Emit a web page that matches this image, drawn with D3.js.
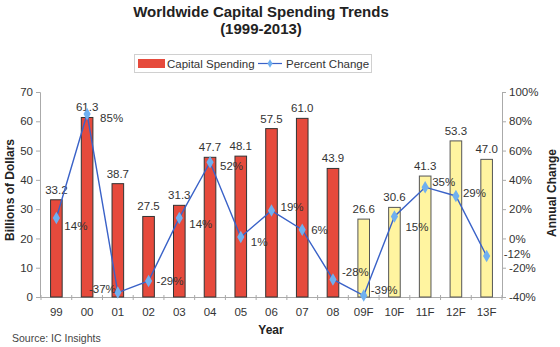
<!DOCTYPE html>
<html><head><meta charset="utf-8">
<script src="https://cdn.jsdelivr.net/npm/d3@7"></script>
<style>body{margin:0;background:#fff}svg{display:block}text{font-family:"Liberation Sans",Arial,sans-serif}</style>
</head><body>
<svg id="c" width="560" height="347"></svg>
<script>
const categories = ["99","00","01","02","03","04","05","06","07","08","09F","10F","11F","12F","13F"];
const spending = [33.2,61.3,38.7,27.5,31.3,47.7,48.1,57.5,61.0,43.9,26.6,30.6,41.3,53.3,47.0];
const pctChange = [14,85,-37,-29,14,52,1,19,6,-28,-39,15,35,29,-12];
const forecast = [false,false,false,false,false,false,false,false,false,false,true,true,true,true,true];
const leftTicks = [0,10,20,30,40,50,60,70];
const rightTicks = [-40,-20,0,20,40,60,80,100];
// label offsets (style only)
const pctOffsets = [[8,8,"start"],[13,4,"start"],[-2,-4,"end"],[8,0,"start"],[10,6,"start"],[10,4,"start"],[10,5,"start"],[9,-4,"start"],[9,0,"start"],[9,-7,"start"],[7,-6,"start"],[11,11,"start"],[7,-5,"start"],[7,-3,"start"],[17,-2,"start"]];

const svg = d3.select("#c");
const L = 41, R = 502, T = 92, B = 297;
const x = d3.scaleBand().domain(categories).range([L,R]).paddingInner(0.59).paddingOuter(0.295);
const yL = d3.scaleLinear().domain([0,70]).range([B,T]);
const yR = d3.scaleLinear().domain([-40,100]).range([B,T]);

// title
svg.append("text").attr("x",261).attr("y",17).attr("text-anchor","middle").attr("font-weight","bold").attr("font-size",15).attr("fill","#222").text("Worldwide Capital Spending Trends");
svg.append("text").attr("x",261).attr("y",34).attr("text-anchor","middle").attr("font-weight","bold").attr("font-size",15).attr("fill","#222").text("(1999-2013)");

// legend
const lg = svg.append("g");
lg.append("rect").attr("x",134.5).attr("y",54.5).attr("width",237).attr("height",18).attr("fill","#fff").attr("stroke","#d0d0d0");
lg.append("rect").attr("x",138).attr("y",59).attr("width",27).attr("height",9).attr("fill","#e64a3c");
lg.append("text").attr("x",167).attr("y",67.5).attr("font-size",11.5).attr("fill","#333").text("Capital Spending");
lg.append("line").attr("x1",258).attr("x2",282).attr("y1",63.5).attr("y2",63.5).attr("stroke","#3a62c8").attr("stroke-width",1.2);
lg.append("path").attr("d",d3.symbol(d3.symbolDiamond,22)()).attr("transform","translate(270,63.5)").attr("fill","#6fb0f0");
lg.append("text").attr("x",286).attr("y",67.5).attr("font-size",11.5).attr("fill","#333").text("Percent Change");

// axes
const axL = svg.append("g").attr("transform",`translate(40,0)`).call(d3.axisLeft(yL).tickValues(leftTicks).tickSize(4).tickPadding(3));
const axR = svg.append("g").attr("transform",`translate(502,0)`).call(d3.axisRight(yR).tickValues(rightTicks).tickFormat(d=>d+"%").tickSize(4).tickPadding(3));
const axX = svg.append("g").attr("transform",`translate(0,${B})`).call(d3.axisBottom(x).tickSize(0).tickPadding(11));
// x minor ticks at band boundaries
const bounds = categories.map(c=>x(c)-x.step()*x.paddingInner()/2).concat([R]);
svg.append("g").selectAll("line").data(bounds).join("line")
  .attr("x1",d=>d).attr("x2",d=>d).attr("y1",B-2).attr("y2",B+3).attr("stroke","#aaa");
[axL,axR,axX].forEach(a=>{
  a.selectAll(".domain").attr("stroke","#aaa");
  a.selectAll(".tick line").attr("stroke","#aaa");
  a.selectAll(".tick text").attr("font-size",11.5).attr("fill","#333").attr("font-family","Liberation Sans, Arial, sans-serif");
});
axX.select(".domain").attr("d",`M${40},0.5H${502}`);

// bars
svg.append("g").selectAll("rect").data(categories).join("rect")
  .attr("x",d=>x(d)+0.5).attr("width",x.bandwidth()-1)
  .attr("y",(d,i)=>yL(spending[i])).attr("height",(d,i)=>B-yL(spending[i]))
  .attr("fill",(d,i)=>forecast[i]?"#fff4a0":"#e64a3c")
  .attr("stroke",(d,i)=>forecast[i]?"#555":"#333").attr("stroke-width",1);

// value labels
svg.append("g").selectAll("text").data(categories).join("text")
  .attr("x",d=>x(d)+x.bandwidth()/2).attr("y",(d,i)=>yL(spending[i])-6)
  .attr("text-anchor","middle").attr("font-size",11.5).attr("fill","#333")
  .text((d,i)=>spending[i].toFixed(1));

// line
const line = d3.line().x((d,i)=>x(categories[i])+x.bandwidth()/2).y(d=>yR(d));
svg.append("path").datum(pctChange).attr("d",line).attr("fill","none").attr("stroke","#3a62c8").attr("stroke-width",1.4);
svg.append("g").selectAll("path").data(pctChange).join("path")
  .attr("d",d3.symbol(d3.symbolDiamond,45)())
  .attr("transform",(d,i)=>`translate(${x(categories[i])+x.bandwidth()/2},${yR(d)})`)
  .attr("fill","#6fb0f0");
svg.append("g").selectAll("text").data(pctChange).join("text")
  .attr("x",(d,i)=>x(categories[i])+x.bandwidth()/2+pctOffsets[i][0])
  .attr("y",(d,i)=>yR(d)+pctOffsets[i][1]+4)
  .attr("text-anchor",(d,i)=>pctOffsets[i][2])
  .attr("font-size",11.5).attr("fill","#333").text(d=>d+"%");

// axis titles
svg.append("text").attr("transform","translate(14,190) rotate(-90)").attr("text-anchor","middle").attr("font-weight","bold").attr("font-size",12).attr("fill","#222").text("Billions of Dollars");
svg.append("text").attr("transform","translate(556,193) rotate(-90)").attr("text-anchor","middle").attr("font-weight","bold").attr("font-size",12).attr("fill","#222").text("Annual Change");
svg.append("text").attr("x",271).attr("y",334).attr("text-anchor","middle").attr("font-weight","bold").attr("font-size",12).attr("fill","#222").text("Year");
svg.append("text").attr("x",12).attr("y",342).attr("font-size",10.5).attr("fill","#444").text("Source: IC Insights");
</script>
</body></html>
